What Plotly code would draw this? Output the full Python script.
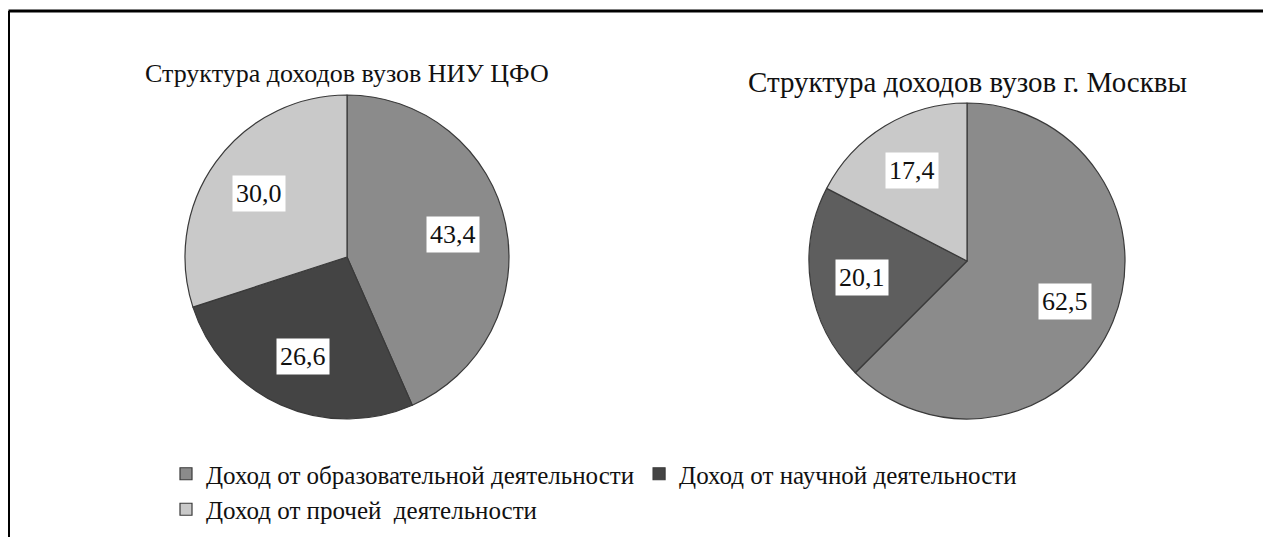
import math
import plotly.graph_objects as go

# ---- data ----
categories = ["Доход от образовательной деятельности",
              "Доход от научной деятельности",
              "Доход от прочей\u00a0 деятельности"]
titles = ["Структура доходов вузов НИУ ЦФО", "Структура доходов вузов г. Москвы"]
values_cfo = [43.4, 26.6, 30.0]
values_msk = [62.5, 20.1, 17.4]

# ---- layout ----
W, H = 1271, 537
OFF = 8                     # page body margin offset
ML, MR = 140, 131           # margins chosen so the legend wraps after two items
PW = W - ML - MR
FONT = "Liberation Serif"
colors_left = ["#8b8b8b", "#444444", "#c9c9c9"]
colors_right = ["#8b8b8b", "#5e5e5e", "#c9c9c9"]


def px_x(px):
    return (px - OFF - ML) / PW


def px_y(py):
    return 1 - (py - OFF) / H


pies = [
    dict(values=values_cfo, cx=347, cy=257, r=162, colors=colors_left, title=titles[0], ty=73, ts=26),
    dict(values=values_msk, cx=967, cy=261, r=158, colors=colors_right, title=titles[1], ty=82, ts=29),
]

fig = go.Figure()
annotations = []
for i, p in enumerate(pies):
    cx, cy, r = p["cx"], p["cy"], p["r"]
    fig.add_trace(go.Pie(
        labels=categories,
        values=p["values"],
        sort=False,
        direction="clockwise",
        rotation=0,
        textinfo="none",
        hoverinfo="label+value",
        showlegend=(i == 0),
        marker=dict(colors=p["colors"], line=dict(color="#3a3a3a", width=1.2)),
        domain=dict(x=[px_x(cx - r), px_x(cx + r)], y=[px_y(cy + r), px_y(cy - r)]),
    ))
    annotations.append(dict(text=p["title"], x=px_x(cx), y=px_y(p["ty"]), xref="paper", yref="paper",
                            showarrow=False, xanchor="center", yanchor="middle",
                            font=dict(family=FONT, size=p["ts"], color="#111111")))
    total = sum(p["values"])
    cum = 0.0
    for v in p["values"]:
        mid = (cum + v / 2) / total * 2 * math.pi
        cum += v
        frac = 0.67
        lx = cx + frac * r * math.sin(mid)
        ly = cy - frac * r * math.cos(mid)
        annotations.append(dict(text=f"{v:.1f}".replace(".", ","), x=px_x(lx), y=px_y(ly),
                                xref="paper", yref="paper", showarrow=False,
                                xanchor="center", yanchor="middle",
                                bgcolor="white", borderpad=3,
                                font=dict(family=FONT, size=26, color="#111111")))

fig.update_layout(
    width=W, height=H,
    margin=dict(l=ML, r=MR, t=0, b=0),
    paper_bgcolor="white", plot_bgcolor="white",
    font=dict(family=FONT, size=25, color="#111111"),
    annotations=annotations,
    legend=dict(orientation="h", x=px_x(166), y=px_y(451), xanchor="left", yanchor="top",
                font=dict(family=FONT, size=25, color="#111111"),
                bgcolor="rgba(0,0,0,0)"),
    shapes=[
        dict(type="line", xref="paper", yref="paper", x0=px_x(8.5), x1=px_x(W + 20), y0=px_y(11), y1=px_y(11),
             line=dict(color="black", width=3)),
        dict(type="line", xref="paper", yref="paper", x0=px_x(8.5), x1=px_x(8.5), y0=px_y(11), y1=px_y(H + 20),
             line=dict(color="black", width=3)),
    ],
)

fig.write_html("out.html")
